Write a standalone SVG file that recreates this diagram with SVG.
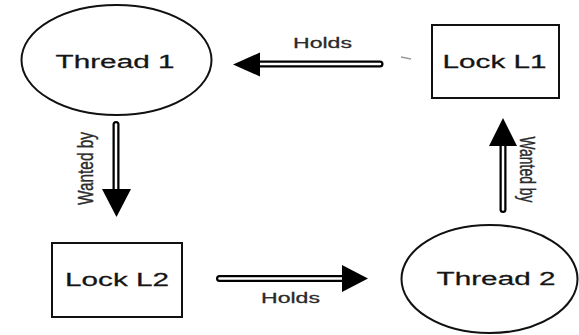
<svg xmlns="http://www.w3.org/2000/svg" width="579" height="335" viewBox="0 0 579 335">
  <style>
    .shape { fill: #ffffff; stroke: #111111; stroke-width: 2; }
    .label { font-family: "Liberation Sans", Arial, sans-serif; fill: #151515; stroke: #151515; stroke-width: 0.25; }
    .node-label { font-size: 18px; }
    .edge-label { font-size: 14px; fill: #2a2a2a; stroke: #2a2a2a; }
    .shaft-outer { fill: none; stroke: #000000; stroke-width: 7; stroke-linecap: round; }
    .shaft-inner { fill: none; stroke: #ffffff; stroke-width: 2.5; stroke-linecap: round; }
    .head { fill: #000000; }
  </style>

  <rect width="579" height="335" fill="#ffffff"/>

  <!-- Nodes: text is drawn wide (x-scaled) -->
  <g id="thread1">
    <ellipse class="shape" cx="116.5" cy="60" rx="95" ry="55"/>
    <text class="label node-label" text-anchor="middle" transform="translate(115,68) scale(1.65,1)">Thread 1</text>
  </g>

  <g id="lockL1">
    <rect class="shape" x="432" y="25" width="127" height="73" stroke-width="2.5"/>
    <text class="label node-label" text-anchor="middle" transform="translate(494.5,68) scale(1.65,1)">Lock L1</text>
  </g>

  <g id="lockL2">
    <rect class="shape" x="52" y="243" width="130" height="74" stroke-width="2.5"/>
    <text class="label node-label" text-anchor="middle" transform="translate(117,286) scale(1.65,1)">Lock L2</text>
  </g>

  <g id="thread2">
    <ellipse class="shape" cx="489.5" cy="279" rx="88" ry="54"/>
    <text class="label node-label" text-anchor="middle" transform="translate(496,285) scale(1.65,1)">Thread 2</text>
  </g>

  <!-- Connectors: double-line shafts with solid heads -->
  <g id="connectors">
    <!-- Lock L1 holds Thread 1 -->
    <g id="edge-l1-t1">
      <path class="shaft-outer" d="M380,64 H256"/>
      <path class="shaft-inner" d="M380,64 H256"/>
      <polygon class="head" points="233,64.5 260,52.5 260,76.5"/>
      <line x1="401" y1="57" x2="411" y2="59" stroke="#9a9a9a" stroke-width="1.3"/>
      <text class="label edge-label" text-anchor="middle" transform="translate(322.5,48) scale(1.65,1)">Holds</text>
    </g>

    <!-- Thread 1 wanted by Lock L2 -->
    <g id="edge-t1-l2">
      <path class="shaft-outer" d="M116,124.5 V193"/>
      <path class="shaft-inner" d="M116,124.5 V193"/>
      <polygon class="head" points="116.5,217 102,189 131,189"/>
      <text class="label edge-label" font-size="17" text-anchor="middle" textLength="73" lengthAdjust="spacingAndGlyphs" transform="translate(93,168.5) scale(1.6,1) rotate(-90)">Wanted by</text>
    </g>

    <!-- Lock L2 holds Thread 2 -->
    <g id="edge-l2-t2">
      <path class="shaft-outer" d="M219.5,278.5 H345"/>
      <path class="shaft-inner" d="M219.5,278.5 H345"/>
      <polygon class="head" points="368,278.5 342,265 342,292"/>
      <text class="label edge-label" text-anchor="middle" transform="translate(290.5,303) scale(1.65,1)">Holds</text>
    </g>

    <!-- Thread 2 wanted by Lock L1 -->
    <g id="edge-t2-l1">
      <path class="shaft-outer" d="M503,209.5 V142"/>
      <path class="shaft-inner" d="M503,209.5 V142"/>
      <polygon class="head" points="503,118 489,146 517,146"/>
      <text class="label edge-label" font-size="17" text-anchor="middle" textLength="66" lengthAdjust="spacingAndGlyphs" transform="translate(520,169.5) scale(1.6,1) rotate(90)">Wanted by</text>
    </g>
  </g>
</svg>
